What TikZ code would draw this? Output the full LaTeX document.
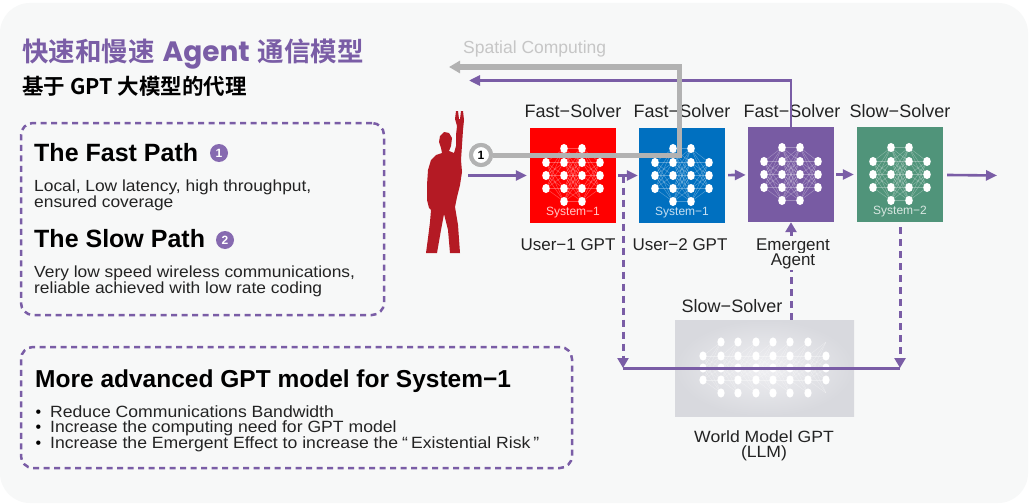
\documentclass[tikz,border=0pt]{standalone}
\usepackage{fontspec}
\setmainfont{Liberation Sans}
\newfontfamily\bodyfont{Liberation Sans}[FakeStretch=1.08]
\newfontfamily\cjk{Noto Sans CJK SC}[BoldFont={Noto Sans CJK SC Bold}]
\newfontfamily\geo{Poppins}
\usetikzlibrary{arrows.meta}

\definecolor{bgpanel}{RGB}{247,248,248}
\definecolor{accent}{RGB}{122,93,166}
\definecolor{userred}{RGB}{255,0,0}
\definecolor{userblue}{RGB}{0,112,192}
\definecolor{agentpurple}{RGB}{120,91,163}
\definecolor{slowgreen}{RGB}{80,148,122}
\definecolor{pathgray}{RGB}{178,178,178}
\definecolor{labelgray}{RGB}{198,198,198}
\definecolor{ink}{RGB}{35,35,35}
\definecolor{figred}{RGB}{180,26,36}
\definecolor{badge}{RGB}{134,106,176}
\definecolor{worldin}{RGB}{240,240,243}
\definecolor{worldout}{RGB}{216,217,222}

\newcommand\pxsize[1]{\fontsize{#1}{#1}\selectfont}

\tikzset{
  txt/.style={inner sep=0pt, anchor=base west, text=black},
  body/.style={txt, text=ink, font=\bodyfont\pxsize{16.1}},
  lbl/.style={inner sep=0pt, anchor=base, text=ink, font=\pxsize{18}},
  solver/.style={minimum width=86pt, minimum height=95pt, inner sep=0pt},
  syslbl/.style={inner sep=0pt, text=white, text opacity=0.78, font=\pxsize{12}},
  flow/.style={draw=accent, line width=2.6pt, -{Triangle[length=11pt,width=10pt]}},
  dflow/.style={draw=accent, line width=3pt, dash pattern=on 7pt off 5pt,
                -{Triangle[length=10pt,width=11pt]}},
  busline/.style={draw=accent, line width=3pt},
  grayflow/.style={draw=pathgray, line width=5pt, -{Triangle[length=11pt,width=12pt]}},
  netline/.style={white, opacity=0.3, line width=0.5pt},
  dbox/.style={draw=accent, line width=2.5pt, dash pattern=on 6pt off 4.5pt,
               rounded corners=12pt, inner sep=0pt},
  numbadge/.style={circle, fill=badge, minimum size=18pt, inner sep=0pt,
                   text=white, font=\bfseries\pxsize{12}},
}

% small neural-network glyph centred in a solver box
\newcommand\netglyph[1]{%
  \begin{scope}[shift={(#1.center)}]
    \foreach \ya in {-13,0,13}{\foreach \yb in {-27,-13,0,13,26}{
      \draw[netline] (-27,\ya) -- (-9,\yb) (27,\ya) -- (9,\yb);}}
    \foreach \ya in {-27,-13,0,13,26}{\foreach \yb in {-27,-13,0,13,26}{
      \draw[netline] (-9,\ya) -- (9,\yb);}}
    \foreach \y in {-13,0,13}{
      \fill[white] (-27,\y) ellipse [x radius=3.8pt, y radius=4.6pt]
                   (27,\y) ellipse [x radius=3.8pt, y radius=4.6pt];}
    \foreach \y in {-27,-13,0,13,26}{
      \fill[white] (-9,\y) ellipse [x radius=3.8pt, y radius=4.6pt]
                   (9,\y) ellipse [x radius=3.8pt, y radius=4.6pt];}
  \end{scope}}

% wider network glyph for the world model
\newcommand\worldglyph[1]{%
  \begin{scope}[shift={(#1.center)}]
    \foreach \xa/\xb in {-61.5/-43.5,-43.5/-26.5,-26.5/-8.5,-8.5/8.5,8.5/25.5,25.5/43.5,43.5/61.5}{
      \foreach \ya in {-12,0,12}{\foreach \yb in {-26,-12,0,12,25}{
        \draw[white, opacity=0.35, line width=0.4pt] (\xa,\ya) -- (\xb,\yb);}}}
    \foreach \x in {-43.5,-26.5,-8.5,8.5,25.5,43.5}{
      \foreach \y in {-26,-12,0,12,25}{
        \fill[white] (\x,\y) ellipse [x radius=3.6pt, y radius=4.6pt];}}
    \foreach \x in {-61.5,61.5}{
      \foreach \y in {-12,0,12}{
        \fill[white] (\x,\y) ellipse [x radius=3.6pt, y radius=4.6pt];}}
  \end{scope}}

\begin{document}
\begin{tikzpicture}[x=1pt,y=-1pt]
\useasboundingbox (0,0) rectangle (1030,503);
\fill[white] (0,0) rectangle (1030,503);
\fill[bgpanel, rounded corners=30pt] (0,3) rectangle (1028,503);

% ---------- headings ----------
\node[txt, text=accent] (title) at (22,61)
  {{\cjk\bfseries\pxsize{26.5}快速和慢速}\hspace{8pt}{\geo\bfseries\pxsize{28}Agent}\hspace{8pt}{\cjk\bfseries\pxsize{26.5}通信模型}};
\node[txt, font=\cjk\bfseries\pxsize{21.5}] (subtitle) at (22,94)
  {基于 GPT 大模型的代理};

% ---------- path descriptions ----------
\node[dbox, minimum width=363pt, minimum height=192pt] (pathbox) at (202.5,219) {};
\node[txt, font=\bfseries\pxsize{25}] (fasthead) at (34,161) {The Fast Path};
\node[numbadge] (badge1) at (219,153) {1};
\node[body] (fast1) at (34,191.5) {Local, Low latency, high throughput,};
\node[body] (fast2) at (34,207) {ensured coverage};
\node[txt, font=\bfseries\pxsize{25}] (slowhead) at (34,247) {The Slow Path};
\node[numbadge] (badge2) at (225,240) {2};
\node[body] (slow1) at (34,277.5) {Very low speed wireless communications,};
\node[body] (slow2) at (34,293) {reliable achieved with low rate coding};

% ---------- System-1 notes ----------
\node[dbox, minimum width=551pt, minimum height=121pt] (notebox) at (296.5,407.5) {};
\node[txt, font=\bfseries\pxsize{24.5}] (notehead) at (35,387) {More advanced GPT model for System−1};
\foreach \y/\t [count=\i] in {417/{Reduce Communications Bandwidth},
                              432.5/{Increase the computing need for GPT model},
                              448.5/{Increase the Emergent Effect to increase the\hspace{4pt}“\hspace{3pt}Existential Risk\hspace{3pt}”}}{
  \node[txt, font=\pxsize{16}] (dot\i) at (35.5,\y) {•};
  \node[body, font=\bodyfont\pxsize{16.3}] (item\i) at (50,\y) {\t};
}

% ---------- human figure ----------
\fill[figred] (426,253) -- (428,238) -- (430,222) -- (431,210) -- (429,208) -- (427,200)
  -- (427,185) -- (428,170) -- (431,160) -- (436,155) -- (442,153) -- (441,148)
  -- (439,142) -- (440,136) -- (444,132) -- (449,133) -- (452,138) -- (451,146)
  -- (449,151) -- (454,153) -- (456,146) -- (456,135) -- (457,126) -- (455,119)
  -- (456,111) -- (458,111) -- (459,119) -- (460,119) -- (461,111) -- (463,111)
  -- (464,120) -- (463,130) -- (462,145) -- (461,160) -- (462,172) -- (460,185)
  -- (457,197) -- (455,207) -- (458,225) -- (460,253) -- (450,253) -- (448,230)
  -- (444,214) -- (441,230) -- (437,253) -- cycle;
\coordinate (human) at (468,175.5);

% ---------- solver boxes ----------
\node[solver, fill=userred] (u1) at (573,175.5) {};
\node[solver, fill=userblue] (u2) at (682,175.5) {};
\node[solver, fill=agentpurple] (w3) at (791,174.5) {};
\node[solver, fill=slowgreen] (w4) at (900,174.5) {};
\netglyph{u1}
\netglyph{u2}
\netglyph{w3}
\netglyph{w4}
\node[syslbl] (u1sys) at (573,213) {System−1};
\node[syslbl] (u2sys) at (682,213) {System−1};
\node[syslbl] (w4sys) at (900,212) {System−2};

\node[lbl] (fs1) at (573,117) {Fast−Solver};
\node[lbl] (fs2) at (682,117) {Fast−Solver};
\node[lbl] (fs3) at (792,117) {Fast−Solver};
\node[lbl] (ss4) at (900,117) {Slow−Solver};
\node[lbl, font=\pxsize{17}] (n1) at (568,250) {User−1 GPT};
\node[lbl, font=\pxsize{17}] (n2) at (680,250) {User−2 GPT};

% ---------- world model ----------
\node[minimum width=179pt, minimum height=96pt, inner sep=0pt,
      inner color=worldin, outer color=worldout] (gbox) at (764.5,368) {};
\worldglyph{gbox}
\node[lbl] (gs) at (732,312) {Slow−Solver};
\node[lbl, font=\bodyfont\pxsize{16.3}] (wm) at (764,442) {World Model GPT};
\node[lbl, font=\bodyfont\pxsize{16.3}] (llm) at (764,457.5) {(LLM)};

% ---------- slow path connectors ----------
\coordinate (tapL) at (623,175.5);
\coordinate (busL) at (623,368);
\coordinate (busR) at (900,368);
\draw[dflow] (gbox.north -| w3) -- (w3);
\node[lbl, font=\pxsize{17}, fill=bgpanel, inner sep=1pt] (n3) at (793,250) {Emergent};
\node[lbl, font=\pxsize{17}, fill=bgpanel, inner sep=1pt] (n3b) at (793,265.5) {Agent};
\draw[busline] (busL) -- (busR);
\draw[dflow] (tapL) -- (busL);
\draw[dflow, shorten <=5pt] (w4) -- (busR);

% ---------- fast path connectors ----------
\draw[flow, shorten >=3pt] (human) -- (u1);
\draw[flow, shorten <=2pt, shorten >=1pt] (u1) -- (u2);
\draw[flow, shorten <=3pt, shorten >=2pt] (u2) -- (w3);
\draw[flow, shorten <=2pt, shorten >=3pt] (w3) -- (w4);
\coordinate (exit) at (997,175.5);
\draw[flow, shorten <=4pt] (w4) -- (exit);

% feedback from the emergent agent
\coordinate (fbEnd) at (469,80.5);
\draw[flow] (w3.north) |- (fbEnd);

% spatial computing path
\node[txt, font=\pxsize{17.5}, text=labelgray] (spatial) at (463,53) {Spatial Computing};
\node[circle, draw=pathgray, line width=4pt, fill=white, minimum size=20pt,
      inner sep=0pt, font=\bfseries\pxsize{12}] (ring) at (481,155) {1};
\coordinate (gTop) at (679,67);
\coordinate (gEnd) at (449,67);
\draw[grayflow] (ring) -| (gTop) -- (gEnd);
\node[circle, draw=pathgray, line width=4pt, fill=white, minimum size=20pt,
      inner sep=0pt, font=\bfseries\pxsize{12}] at (ring) {1};
\end{tikzpicture}
\end{document}
